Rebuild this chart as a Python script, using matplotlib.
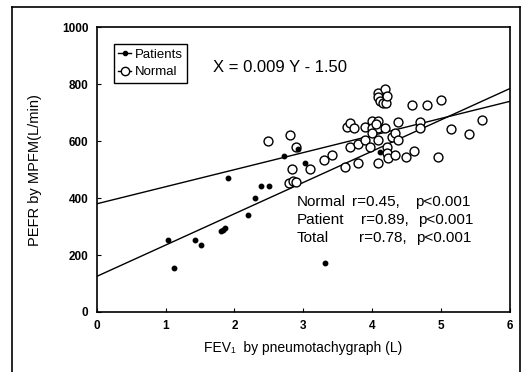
import matplotlib
matplotlib.use("Agg")
import matplotlib.pyplot as plt
from matplotlib.lines import Line2D
import numpy as np

plt.rcParams['font.family'] = ['Liberation Sans', 'DejaVu Sans']

# Patients (filled dots)
patients_x = [1.03, 1.12, 1.43, 1.52, 1.80, 1.83, 1.86, 1.91, 2.19, 2.30, 2.39, 2.50,
              2.72, 2.92, 3.03, 3.31, 4.11]
patients_y = [253, 153, 253, 234, 283, 289, 295, 470, 342, 402, 441, 441,
              549, 574, 525, 172, 563]

# Normal subjects (open circles)
normal_x = [2.49, 2.80, 2.89, 2.84, 2.79, 2.85, 2.89, 3.10, 3.30, 3.41, 3.60, 3.63, 3.67,
            3.73, 3.68, 3.79, 3.79, 3.89, 3.89, 3.99, 4.09, 3.99, 4.09, 3.97, 4.09, 4.09,
            4.18, 4.22, 4.21, 4.23, 4.28, 4.33, 4.38, 4.33, 4.38, 4.08, 4.08, 4.12, 4.16,
            4.20, 4.18, 4.22, 4.49, 4.60, 4.58, 4.79, 4.69, 4.69, 5.00, 4.95, 5.15, 5.40,
            5.59, 3.99, 4.05]
normal_y = [600, 622, 581, 502, 453, 460, 455, 502, 533, 552, 511, 651, 663,
            648, 581, 523, 589, 651, 605, 671, 671, 646, 646, 581, 605, 523,
            646, 581, 558, 540, 616, 628, 605, 552, 669, 770, 755, 740, 735,
            735, 785, 760, 543, 564, 727, 727, 669, 646, 745, 544, 643, 625,
            675, 630, 660]

# Regression lines: (intercept, slope) in PEFR = a + b * FEV1
line_normal = (380, 60)
line_total = (125, 110)
line_x = [0, 6]

fig = plt.figure(figsize=(5.26, 3.72), dpi=100)
ax = fig.add_axes([96.7 / 526, 1 - 312 / 372, (510 - 96.7) / 526, (312 - 27.3) / 372])

for a, b in (line_normal, line_total):
    xs = np.array(line_x, dtype=float)
    ax.plot(xs, a + b * xs, color='black', lw=1.0, zorder=2)

ax.plot(normal_x, normal_y, linestyle='none', marker='o', ms=6.4, mfc='white',
        mec='black', mew=1.0, zorder=3)
ax.plot(patients_x, patients_y, linestyle='none', marker='o', ms=3.2, mfc='black',
        mec='black', zorder=4)

ax.set_xlim(0, 6)
ax.set_ylim(0, 1000)
ax.set_xticks(range(0, 7))
ax.set_yticks(range(0, 1001, 200))
ax.tick_params(direction='in', length=3, width=0.8, labelsize=8.5, pad=6)
for lab in ax.get_xticklabels() + ax.get_yticklabels():
    lab.set_fontweight('bold')
for s in ax.spines.values():
    s.set_linewidth(1.2)

ax.set_xlabel('FEV\u2081  by pneumotachygraph (L)', fontsize=10, labelpad=6)
ax.set_ylabel('PEFR by MPFM(L/min)', fontsize=10.5, labelpad=14)

ax.text(1.69, 860, 'X = 0.009 Y - 1.50', fontsize=12, va='center', ha='left')

rows = [('Normal', 'r=0.45,', 'p<0.001', 3.71, 4.62, 387),
        ('Patient', 'r=0.89,', 'p<0.001', 3.84, 4.67, 324),
        ('Total', 'r=0.78,', 'p<0.001', 3.81, 4.64, 261)]
for name, r, p, xr, xp, y in rows:
    ax.text(2.9, y, name, fontsize=11, va='center', ha='left')
    ax.text(xr, y, r, fontsize=11, va='center', ha='left')
    ax.text(xp, y, p, fontsize=11, va='center', ha='left')

handles = [Line2D([], [], color='black', lw=1, marker='o', ms=3, mfc='black'),
           Line2D([], [], color='black', lw=1, marker='o', ms=6, mfc='white')]
leg = ax.legend(handles, ['Patients', 'Normal'], loc='upper left',
                bbox_to_anchor=(0.025, 0.965), fontsize=9.5, handlelength=1.0,
                handletextpad=0.25, borderpad=0.35, labelspacing=0.4,
                fancybox=False, edgecolor='black', framealpha=1)
leg.get_frame().set_linewidth(1.0)

# outer frame of the figure panel
for (x0, y0, x1, y1) in [(12, 372, 12, 7), (12, 7, 520, 7), (520, 7, 520, 372)]:
    fig.add_artist(Line2D([x0 / 526, x1 / 526], [1 - y0 / 372, 1 - y1 / 372],
                          color='black', lw=1.2, transform=fig.transFigure))

fig.savefig('out.png', dpi=100)
